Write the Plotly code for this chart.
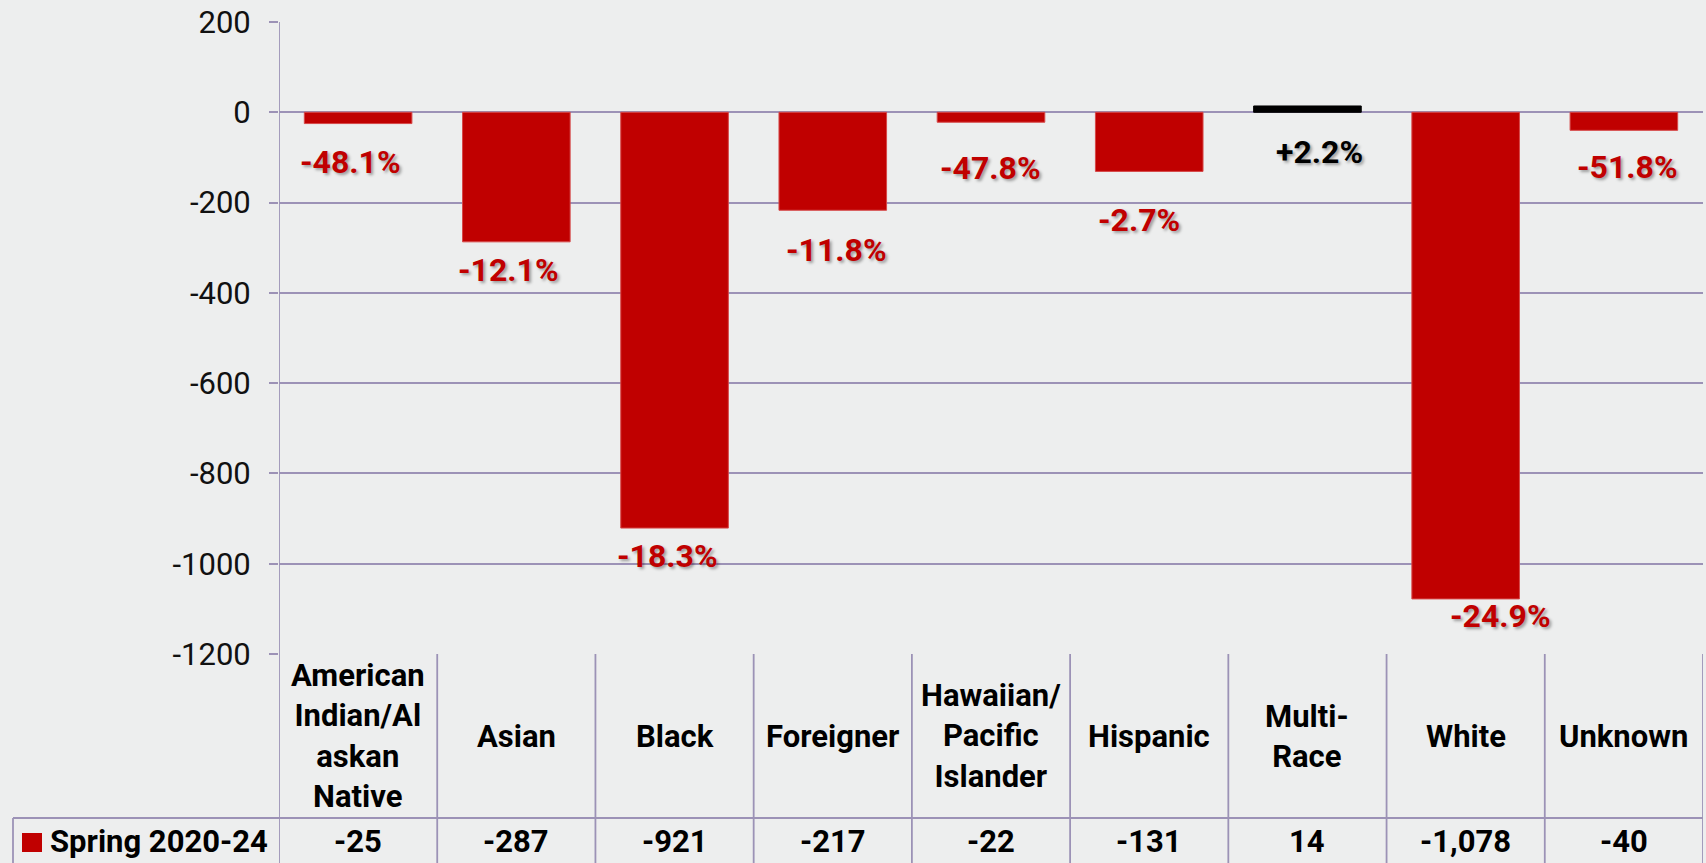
import plotly.graph_objects as go

# ---------------- data ----------------
categories = ["American<br>Indian/Al<br>askan<br>Native", "Asian", "Black", "Foreigner",
              "Hawaiian/<br>Pacific<br>Islander", "Hispanic", "Multi-<br>Race", "White", "Unknown"]
series_name = "Spring 2020-24"
changes = [-25, -287, -921, -217, -22, -131, 14, -1078, -40]
pct_change = [-48.1, -12.1, -18.3, -11.8, -47.8, -2.7, 2.2, -24.9, -51.8]
tick_vals = [200, 0, -200, -400, -600, -800, -1000, -1200]

# ---------------- style ----------------
RED = "#C00000"
GRID = "#9C92B6"
BG = "#EDEEEE"
FONT = "Roboto"
# pixel nudges of the percentage labels relative to bar ends
label_dx = [-8, -8, -7, 4, -1, -10, 12, 35, 4]
label_dy = [38, 28, 28, 40, 46, 49, 46, 17, 37]

x_idx = list(range(len(categories)))
bar_colors = [RED if v < 0 else "#000000" for v in changes]
line_colors = ["#D64848" if v < 0 else "#000000" for v in changes]

fig = go.Figure()
fig.add_trace(go.Bar(
    x=x_idx, y=changes, width=0.68,
    marker=dict(color=bar_colors, line=dict(color=line_colors, width=1)),
    name=series_name, showlegend=False, hoverinfo="skip",
))

annotations = []
# percentage labels
for i, (v, p) in enumerate(zip(changes, pct_change)):
    txt = (f"+{p:.1f}%" if p > 0 else f"{p:.1f}%")
    col = RED if v < 0 else "#000000"
    annotations.append(dict(
        x=i, y=v, xref="x", yref="y", text=txt, showarrow=False,
        xanchor="center", yanchor="middle", xshift=label_dx[i], yshift=-label_dy[i],
        font=dict(family=FONT, size=32, color=col, weight="bold",
                  shadow="2px 2px 3px rgba(0,0,0,0.35)"),
    ))

# table: header row (category names) and data row
plot_h = 632.0
hdr_y = -(736 - 654) / plot_h
row_top = -(818 - 654) / plot_h
row_y = -(841 - 654) / plot_h
bottom = -(880 - 654) / plot_h
left_x = (13 - 279) / 1424.0

for i, c in enumerate(categories):
    annotations.append(dict(
        x=i, y=hdr_y, xref="x", yref="paper", text=c, showarrow=False,
        xanchor="center", yanchor="middle", align="center",
        font=dict(family=FONT, size=31, color="#000000", weight="bold"),
    ))
    annotations.append(dict(
        x=i, y=row_y, xref="x", yref="paper", text=f"{changes[i]:,}", showarrow=False,
        xanchor="center", yanchor="middle",
        font=dict(family=FONT, size=31, color="#000000", weight="bold"),
    ))

annotations.append(dict(
    x=(48 - 279) / 1424.0, y=row_y, xref="paper", yref="paper", text=series_name,
    showarrow=False, xanchor="left", yanchor="middle",
    font=dict(family=FONT, size=31, color="#000000", weight="bold"),
))

shapes = []
lw = 1.8
# vertical separators
for k in range(len(categories) + 1):
    y1 = 1 if k == 0 else 0
    shapes.append(dict(type="line", xref="x", yref="paper", x0=k - 0.5, x1=k - 0.5,
                       y0=bottom, y1=y1, line=dict(color=GRID, width=lw), layer="above"))
# left border of data row
shapes.append(dict(type="line", xref="paper", yref="paper", x0=left_x, x1=left_x,
                   y0=bottom, y1=row_top, line=dict(color=GRID, width=lw)))
# horizontal line between header and data row
shapes.append(dict(type="line", xref="paper", yref="paper", x0=left_x, x1=1,
                   y0=row_top, y1=row_top, line=dict(color=GRID, width=lw)))
# legend key square
shapes.append(dict(type="rect", xref="paper", yref="paper",
                   x0=(22 - 279) / 1424.0, x1=(42 - 279) / 1424.0,
                   y0=-(852 - 654) / plot_h, y1=-(833 - 654) / plot_h,
                   fillcolor=RED, line=dict(width=0)))

fig.update_layout(
    width=1706, height=863,
    margin=dict(l=279, r=3, t=22, b=209, pad=0),
    paper_bgcolor=BG, plot_bgcolor=BG,
    font=dict(family=FONT, color="#000000"),
    bargap=0.32,
    annotations=annotations,
    shapes=shapes,
    xaxis=dict(range=[-0.5, len(categories) - 0.5], showticklabels=False, showgrid=False,
               zeroline=False, showline=False, ticks="", fixedrange=True),
    yaxis=dict(range=[-1200, 200], tickvals=tick_vals, ticktext=[str(v) for v in tick_vals],
               showgrid=True, gridcolor=GRID, gridwidth=lw,
               zeroline=True, zerolinecolor=GRID, zerolinewidth=lw,
               showline=False, ticks="outside", ticklen=9, tickcolor=GRID, tickwidth=lw,
               ticklabelstandoff=12,
               tickfont=dict(family=FONT, size=31, color="#111111"), fixedrange=True),
)

fig.write_html("out.html", config={"displayModeBar": False},
               post_script="document.body.style.margin='0';document.body.style.overflow='hidden';")
